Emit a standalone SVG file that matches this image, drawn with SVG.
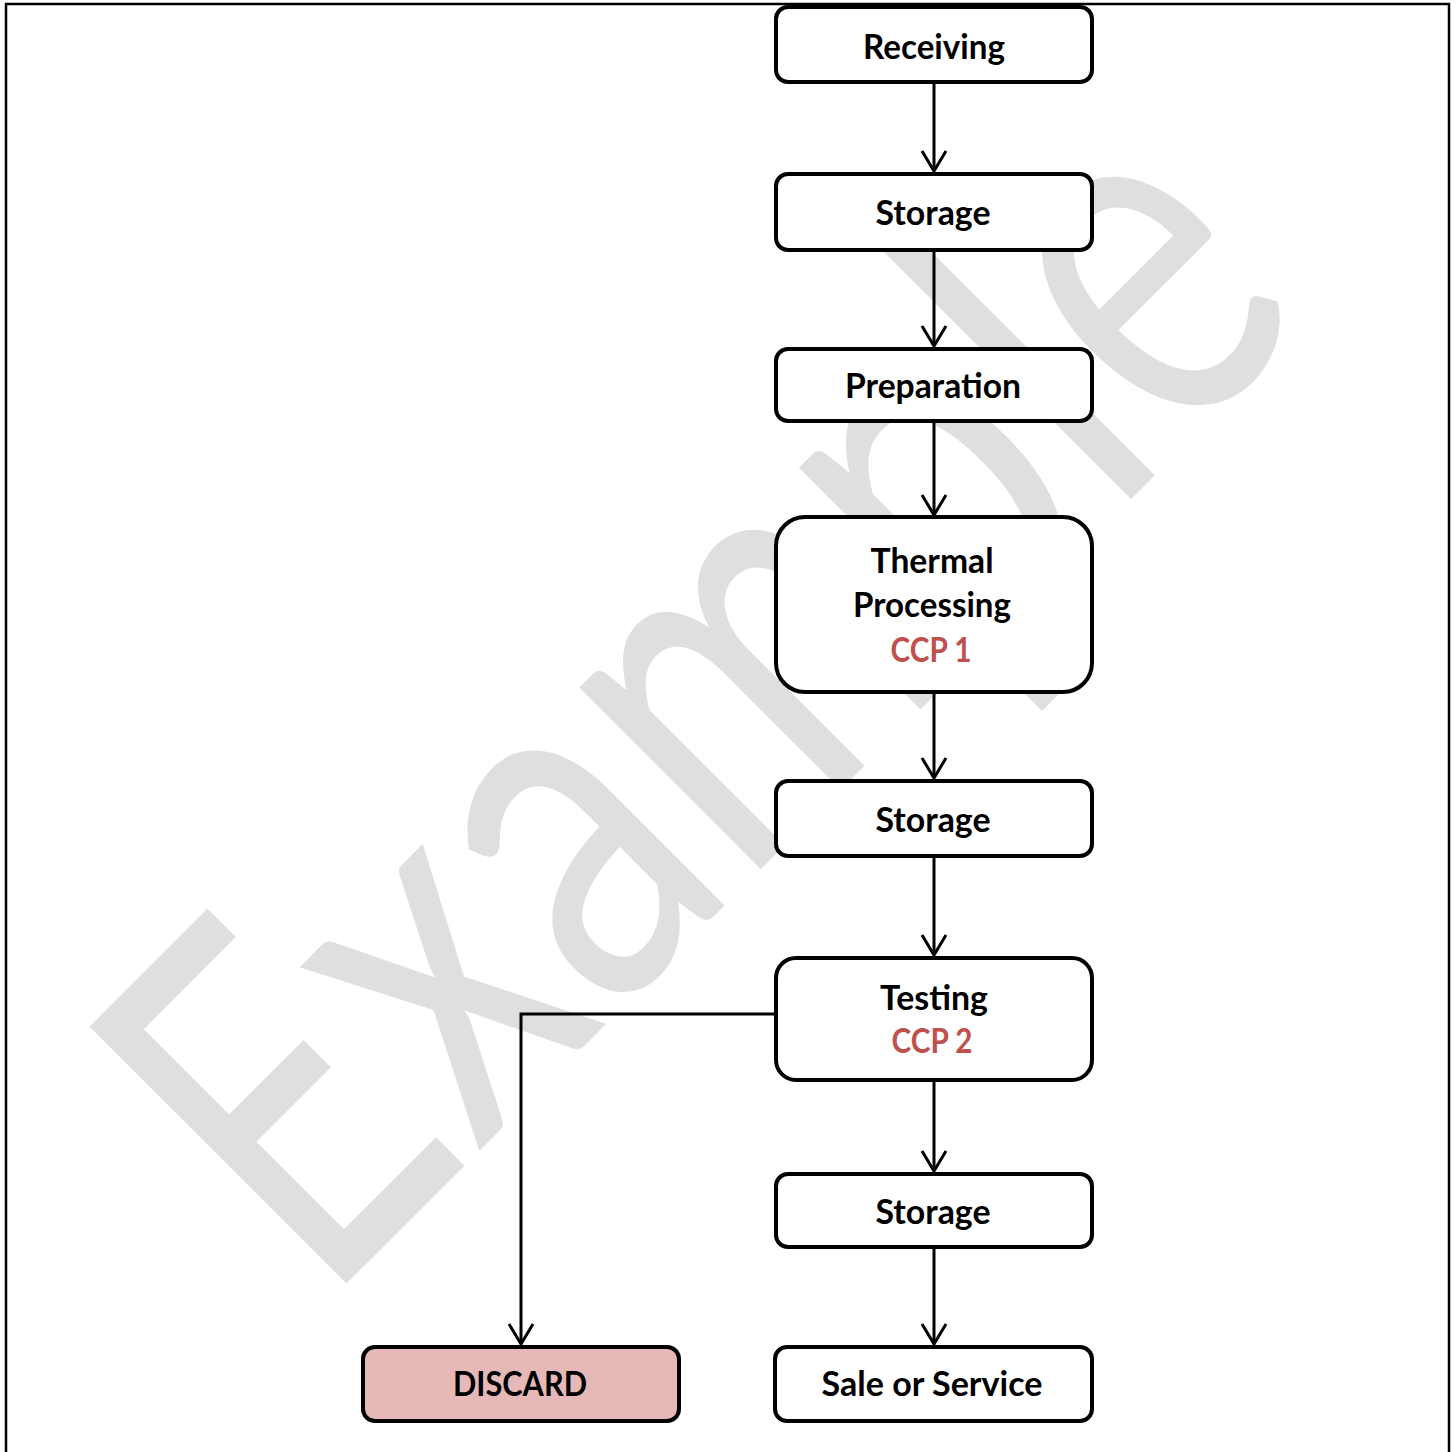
<svg xmlns="http://www.w3.org/2000/svg" width="1456" height="1452" viewBox="0 0 1456 1452">
<defs>
<style>
.box{fill:#FFFFFF;stroke:#000000;stroke-width:4}
.discard{fill:#E6B8B7;stroke:#000000;stroke-width:4}
.lbl{font-family:Lato,"Liberation Sans",sans-serif;font-weight:bold;font-size:34px;fill:#000000;text-anchor:middle}
.ccp{fill:#C0504D}
.conn{fill:none;stroke:#000000;stroke-width:3}
.wm{font-family:Lato,"Liberation Sans",sans-serif;font-size:507px;fill:#DFDFDF}
</style>
<marker id="arr" markerUnits="userSpaceOnUse" viewBox="-24 -16 28 32" refX="0" refY="0" markerWidth="28" markerHeight="32" orient="auto">
<path d="M-20,-12 L0,0 L-20,12" fill="none" stroke="#000000" stroke-width="3"/>
</marker>
</defs>
<rect width="1456" height="1452" fill="#FFFFFF"/>
<rect x="6" y="4" width="1443" height="1460" fill="none" stroke="#000000" stroke-width="2.5"/>
<text class="wm" transform="translate(322,1308) rotate(-45)" textLength="1405" lengthAdjust="spacingAndGlyphs">Example</text>
<g id="connectors">
<line class="conn" x1="934" y1="83" x2="934" y2="171" marker-end="url(#arr)"/>
<line class="conn" x1="934" y1="251" x2="934" y2="346" marker-end="url(#arr)"/>
<line class="conn" x1="934" y1="422" x2="934" y2="515" marker-end="url(#arr)"/>
<line class="conn" x1="934" y1="693" x2="934" y2="778" marker-end="url(#arr)"/>
<line class="conn" x1="934" y1="857" x2="934" y2="955" marker-end="url(#arr)"/>
<line class="conn" x1="934" y1="1081" x2="934" y2="1171" marker-end="url(#arr)"/>
<line class="conn" x1="934" y1="1248" x2="934" y2="1344" marker-end="url(#arr)"/>
<polyline class="conn" points="776,1014 521,1014 521,1344" marker-end="url(#arr)"/>
</g>
<g id="receiving">
<rect class="box" x="776" y="7" width="316" height="75" rx="12"/>
<text class="lbl" x="934" y="59" textLength="142" lengthAdjust="spacingAndGlyphs">Receiving</text>
</g>
<g id="storage1">
<rect class="box" x="776" y="174" width="316" height="76" rx="12"/>
<text class="lbl" x="933" y="225" textLength="115" lengthAdjust="spacingAndGlyphs">Storage</text>
</g>
<g id="preparation">
<rect class="box" x="776" y="349" width="316" height="72" rx="12"/>
<text class="lbl" x="933" y="398" textLength="176" lengthAdjust="spacingAndGlyphs">Preparation</text>
</g>
<g id="thermal">
<rect class="box" x="776" y="517" width="316" height="175" rx="29"/>
<text class="lbl" x="932" y="573" textLength="123" lengthAdjust="spacingAndGlyphs">Thermal</text>
<text class="lbl" x="932" y="617" textLength="158" lengthAdjust="spacingAndGlyphs">Processing</text>
<text class="lbl ccp" x="931" y="662" textLength="81" lengthAdjust="spacingAndGlyphs">CCP 1</text>
</g>
<g id="storage2">
<rect class="box" x="776" y="781" width="316" height="75" rx="12"/>
<text class="lbl" x="933" y="832" textLength="115" lengthAdjust="spacingAndGlyphs">Storage</text>
</g>
<g id="testing">
<rect class="box" x="776" y="958" width="316" height="122" rx="20"/>
<text class="lbl" x="934" y="1010" textLength="108" lengthAdjust="spacingAndGlyphs">Testing</text>
<text class="lbl ccp" x="932" y="1053" textLength="81" lengthAdjust="spacingAndGlyphs">CCP 2</text>
</g>
<g id="storage3">
<rect class="box" x="776" y="1174" width="316" height="73" rx="12"/>
<text class="lbl" x="933" y="1224" textLength="115" lengthAdjust="spacingAndGlyphs">Storage</text>
</g>
<g id="sale">
<rect class="box" x="775" y="1347" width="317" height="74" rx="12"/>
<text class="lbl" x="932" y="1396" textLength="221" lengthAdjust="spacingAndGlyphs">Sale or Service</text>
</g>
<g id="discard">
<rect class="discard" x="363" y="1347" width="316" height="74" rx="12"/>
<text class="lbl" x="520" y="1396" textLength="134" lengthAdjust="spacingAndGlyphs">DISCARD</text>
</g>
</svg>
